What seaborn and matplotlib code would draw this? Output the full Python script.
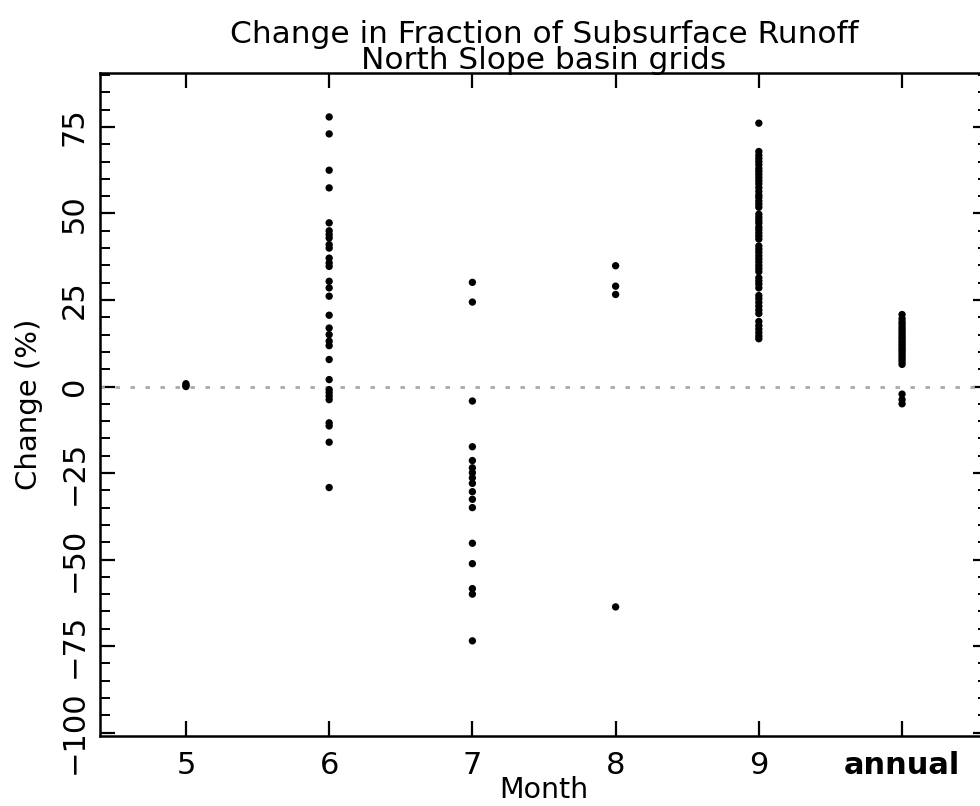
import numpy as np
import pandas as pd
import matplotlib
matplotlib.use("Agg")
import matplotlib.pyplot as plt
import seaborn as sns

# --- data (change in %) ---
month_labels = ["5", "6", "7", "8", "9", "annual"]

may = [0.8, 0.3, 0.0]
june = [77.9, 73.0, 62.5, 57.4, 47.3, 45.0, 43.9, 42.9, 41.0, 40.0, 37.1,
        35.7, 34.7, 30.4, 28.5, 26.1, 20.6, 16.9, 15.0, 13.1, 11.8, 7.8,
        2.0, -0.9, -1.8, -2.8, -3.8, -10.5, -11.4, -16.1, -29.2]
july = [30.1, 24.4, -4.2, -17.4, -21.4, -23.5, -24.9, -26.4, -28.0, -30.4,
        -32.6, -35.0, -45.3, -51.2, -58.4, -60.0, -73.5]
august = [34.9, 29.0, 26.6, -63.7]
september = [76.1, 67.9, 66.8, 65.9, 65.0, 64.1, 63.0, 62.2, 61.3, 60.4,
             59.5, 58.6, 57.5, 56.4, 55.3, 54.6, 53.6, 52.7, 51.8, 49.8,
             48.9, 48.0, 47.2, 46.1, 45.3, 44.4, 43.5, 42.6, 40.6, 39.7,
             38.8, 37.8, 36.9, 36.0, 35.0, 34.1, 33.2, 31.4, 30.5, 29.6,
             28.5, 26.3, 25.4, 24.3, 23.2, 22.1, 21.1, 18.8, 17.6, 16.6,
             15.6, 14.6, 13.8]
annual = [20.8, 19.6, 18.7, 18.0, 17.2, 16.5, 15.8, 15.1, 14.4, 13.8, 13.1,
          12.5, 11.9, 11.2, 10.6, 10.0, 9.3, 8.6, 7.9, 7.2, 6.4,
          -2.2, -3.8, -5.0]

groups = [may, june, july, august, september, annual]
positions = [5, 6, 7, 8, 9, 10]

df = pd.concat(
    [pd.DataFrame({"pos": p, "change": vals}) for p, vals in zip(positions, groups)],
    ignore_index=True,
)

sns.set_theme(style="ticks")
plt.rcParams['font.family'] = ['DejaVu Sans']
plt.rcParams['text.color'] = 'black'
plt.rcParams['axes.labelcolor'] = 'black'
plt.rcParams['xtick.color'] = 'black'
plt.rcParams['ytick.color'] = 'black'

fig = plt.figure(figsize=(9.8, 8.06), dpi=100)
ax = fig.add_axes([100 / 980, 70 / 806, 888 / 980, 663 / 806])

# dotted zero reference line
ax.axhline(0, color="#aaaaaa", lw=2.0, ls=(0, (1.6, 3.8)), zorder=1)
sns.scatterplot(data=df, x="pos", y="change", color="black", s=28,
                edgecolor="none", legend=False, ax=ax, zorder=3)

ax.set_xlim(4.4, 10.6)
ax.set_ylim(-101, 90.6)
ax.set_xticks(positions)
ax.set_xticklabels(month_labels)
ax.get_xticklabels()[-1].set_fontweight("bold")
ax.set_yticks([-100, -75, -50, -25, 0, 25, 50, 75])
ax.set_yticks(np.arange(-100, 91, 5), minor=True)
ax.set_yticklabels(["\u2212100", "\u221275", "\u221250", "\u221225", "0", "25", "50", "75"],
                   rotation=90, va="center")

ax.tick_params(axis="both", which="major", direction="in", length=11, width=1.6,
               labelsize=22, top=True, right=True)
ax.tick_params(axis="y", which="minor", direction="in", length=7, width=1.4,
               left=True, right=True)
ax.tick_params(axis="x", which="minor", bottom=False, top=False)
ax.tick_params(axis="x", pad=11)
ax.tick_params(axis="y", pad=8)

for sp in ax.spines.values():
    sp.set_color("black")
    sp.set_linewidth(1.8)

ax.set_xlabel("Month", fontsize=20.5, labelpad=-3)
ax.set_ylabel("Change (%)", fontsize=21, labelpad=12)
ax.set_title("Change in Fraction of Subsurface Runoff\nNorth Slope basin grids",
             fontsize=22.5, linespacing=0.88, pad=3)

fig.savefig("out.png", dpi=100)
